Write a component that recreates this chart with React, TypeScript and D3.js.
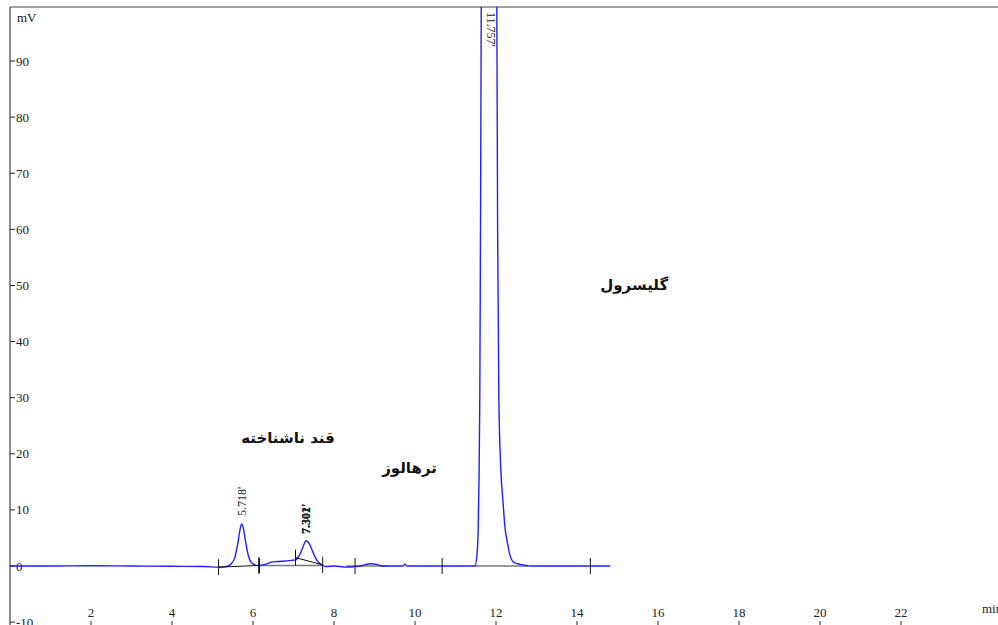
import React from "react";
import * as d3 from "d3";

// chromatogram trace [min, mV]
const trace: [number, number][] = [
  [0, 0], [1, 0], [2, 0.05], [3, 0], [4, -0.05], [4.8, -0.1], [5.15, -0.2],
  [5.35, -0.1], [5.45, 0.3], [5.55, 1.5], [5.62, 3.8], [5.68, 6.5], [5.72, 7.5],
  [5.76, 6.8], [5.82, 4.2], [5.88, 2.0], [5.95, 0.7], [6.05, 0.2], [6.15, 0.1],
  [6.3, 0.3], [6.45, 0.7], [6.6, 0.8], [6.8, 0.9], [6.95, 1.0], [7.05, 1.1],
  [7.12, 1.6], [7.18, 2.4], [7.25, 3.7], [7.31, 4.5], [7.38, 4.1], [7.45, 3.0],
  [7.52, 1.8], [7.6, 0.8], [7.7, 0.2], [7.8, -0.1], [8.0, 0.0], [8.3, -0.2],
  [8.52, -0.1], [8.7, 0.1], [8.9, 0.4], [9.05, 0.3], [9.2, 0.0], [9.5, 0],
  [9.7, 0], [9.75, 0.3], [9.8, 0], [10.5, 0], [11.3, 0], [11.48, 0], [11.53, 2],
  [11.56, 6.4], [11.58, 15], [11.6, 30], [11.62, 65], [11.64, 110], [11.7, 250],
  [11.757, 320], [11.85, 260], [11.95, 160], [12.02, 100], [12.04, 60],
  [12.07, 30], [12.12, 17], [12.17, 11.8], [12.22, 7], [12.27, 4.6], [12.35, 1.8],
  [12.45, 0.6], [12.6, 0.3], [12.75, 0.1], [12.85, 0], [13.5, 0], [14.3, 0], [14.82, 0],
];

// integration events (time, level)
const eventMarks: [number, number][] = [
  [5.15, -0.2], [6.15, 0.1], [7.05, 1.5], [7.72, 0.2], [8.52, 0], [10.67, 0], [14.33, 0],
];
const blackBaselines: [number, number][][] = [
  [[5.15, -0.2], [6.15, 0.1]],
  [[7.05, 1.5], [7.72, 0.2]],
];
const grayBaselines: [number, number][][] = [
  [[6.15, 0.1], [7.72, 0.1]],
  [[8.3, 0], [9.3, 0]],
  [[11.45, 0], [12.8, 0]],
];

const xTicks = [2, 4, 6, 8, 10, 12, 14, 16, 18, 20, 22];
const yTicks = [-10, 0, 10, 20, 30, 40, 50, 60, 70, 80, 90];

const peakLabels = [
  { t: 5.718, v: 8.2, text: "5.718'", rot: -90, bold: false },
  { t: 7.301, v: 5.0, text: "7.301'", rot: -90, bold: true },
  { t: 7.302, v: 5.0, text: "7.302'", rot: -90, bold: true },
];
const bigPeakLabel = { t: 11.757, text: "11.757'" };

const compounds = [
  { t: 8.02, v: 21.9, text: "قند ناشناخته" },
  { t: 10.54, v: 16.6, text: "ترهالوز" },
  { t: 16.25, v: 49.2, text: "گلیسرول" },
];

const W = 998;
const H = 625;
const TOP = 7;

export default function App() {
  const x = d3.scaleLinear().domain([0, 2]).range([10, 91]);
  const y = d3.scaleLinear().domain([0, 90]).range([566, 61]);

  const line = d3
    .line<[number, number]>()
    .x((d) => x(d[0]))
    .y((d) => y(d[1]))
    .curve(d3.curveMonotoneX);

  const straight = d3
    .line<[number, number]>()
    .x((d) => x(d[0]))
    .y((d) => y(d[1]));

  const serif = "'Liberation Serif', 'Times New Roman', serif";

  return (
    <svg
      width={W}
      height={H}
      style={{ position: "absolute", left: 0, top: 0, background: "#fff" }}
    >
      <defs>
        <clipPath id="plotClip">
          <rect x={x(0)} y={TOP} width={W} height={H - TOP} />
        </clipPath>
      </defs>

      {/* frame */}
      <line x1={x(0)} x2={W} y1={TOP} y2={TOP} stroke="#444" strokeWidth={1.2} />
      <line x1={x(0)} x2={x(0)} y1={TOP} y2={H} stroke="#444" strokeWidth={1.2} />

      {/* y axis */}
      {yTicks.map((t) => (
        <g key={t}>
          <line x1={x(0)} x2={x(0) + 5} y1={y(t)} y2={y(t)} stroke="#222" />
          <text x={x(0) + 6} y={y(t) + 4.5} fontSize={13} fontFamily={serif} fill="#222">
            {t}
          </text>
        </g>
      ))}
      <text x={17} y={22} fontSize={13} fontFamily={serif} fill="#222">mV</text>

      {/* x axis labels */}
      {xTicks.map((t) => (
        <g key={t}>
          <text x={x(t)} y={617} fontSize={13} fontFamily={serif} textAnchor="middle" fill="#222">
            {t}
          </text>
          <line x1={x(t)} x2={x(t)} y1={621} y2={H} stroke="#222" />
        </g>
      ))}
      <text x={982} y={613} fontSize={13} fontFamily={serif} fill="#222">min</text>

      {/* integration baselines */}
      {grayBaselines.map((seg, i) => (
        <path key={"g" + i} d={straight(seg) || ""} stroke="#777" strokeWidth={1.6} fill="none" />
      ))}

      {/* trace */}
      <g clipPath="url(#plotClip)">
        <path d={line(trace) || ""} stroke="#1f1fff" strokeWidth={1.4} fill="none" />
      </g>

      {blackBaselines.map((seg, i) => (
        <path key={"b" + i} d={straight(seg) || ""} stroke="#111" strokeWidth={1} fill="none" />
      ))}
      {eventMarks.map(([t, v], i) => (
        <line
          key={"e" + i}
          x1={x(t)}
          x2={x(t)}
          y1={y(v) - 8}
          y2={y(v) + 8}
          stroke="#111"
          strokeWidth={i === 1 ? 1.8 : 1}
        />
      ))}

      {/* peak retention labels */}
      {peakLabels.map((p, i) => (
        <text
          key={"p" + i}
          transform={`translate(${x(p.t) + 4},${y(p.v) - 4}) rotate(${p.rot})`}
          fontSize={12}
          fontFamily={serif}
          fontWeight={p.bold ? "bold" : "normal"}
          fill="#222"
        >
          {p.text}
        </text>
      ))}
      <text
        transform={`translate(${x(bigPeakLabel.t) + 0.5},${TOP + 5}) rotate(90)`}
        fontSize={12}
        fontFamily={serif}
        fill="#222"
      >
        {bigPeakLabel.text}
      </text>

      {/* compound names */}
      {compounds.map((c, i) => (
        <text
          key={"c" + i}
          x={x(c.t)}
          y={y(c.v)}
          fontSize={15}
          fontWeight="bold"
          fontFamily="'DejaVu Sans', sans-serif"
          textAnchor="end"
          fill="#111"
        >
          {c.text}
        </text>
      ))}
    </svg>
  );
}
